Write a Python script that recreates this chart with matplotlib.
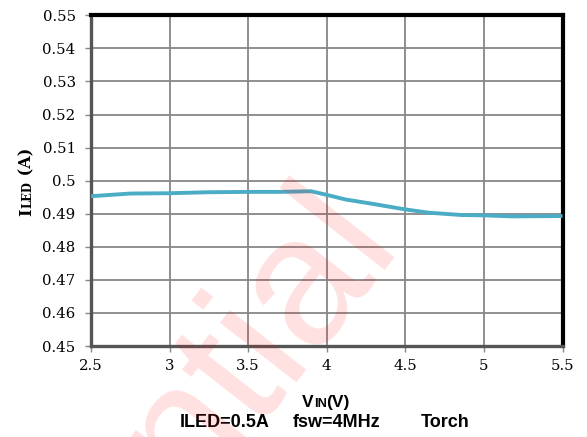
import matplotlib
matplotlib.use("Agg")
import matplotlib.pyplot as plt
import numpy as np

# Data
vin = [2.5, 2.75, 3.0, 3.25, 3.5, 3.7, 3.9, 4.0, 4.12, 4.29, 4.5, 4.65, 4.86, 5.0, 5.18, 5.5]
iled = [0.4953, 0.4961, 0.4962, 0.4965, 0.4966, 0.4966, 0.4968, 0.4957, 0.4943, 0.4930,
        0.4913, 0.4903, 0.4896, 0.4895, 0.4892, 0.4893]
xticks = [2.5, 3, 3.5, 4, 4.5, 5, 5.5]
xticklabels = ["2.5", "3", "3.5", "4", "4.5", "5", "5.5"]
yticks = [0.45, 0.46, 0.47, 0.48, 0.49, 0.50, 0.51, 0.52, 0.53, 0.54, 0.55]
yticklabels = ["0.45", "0.46", "0.47", "0.48", "0.49", "0.5", "0.51", "0.52", "0.53", "0.54", "0.55"]

W, H = 587, 437
fig = plt.figure(figsize=(W / 100, H / 100), dpi=100)
ax = fig.add_axes([91 / W, (H - 346) / H, (562.5 - 91) / W, (346 - 15.3) / H])

ax.plot(vin, iled, color="#4BACC6", lw=2.8, solid_capstyle="butt", solid_joinstyle="round", zorder=3)
ax.set_xlim(2.5, 5.5)
ax.set_ylim(0.45, 0.55)
ax.set_xticks(xticks)
ax.set_xticklabels(xticklabels)
ax.set_yticks(yticks)
ax.set_yticklabels(yticklabels)
ax.grid(True, color="#878787", lw=1.3, zorder=1)
ax.set_axisbelow(True)

for side in ["top", "right"]:
    ax.spines[side].set_color("black")
    ax.spines[side].set_linewidth(3.0)
for side in ["left", "bottom"]:
    ax.spines[side].set_color("#555555")
    ax.spines[side].set_linewidth(2.4)

ax.tick_params(axis="both", direction="out", length=4, width=1.0, color="#878787",
               labelsize=10.7, labelcolor="black")
ax.tick_params(axis="y", pad=7)
ax.tick_params(axis="x", pad=5)
for lab in ax.get_xticklabels() + ax.get_yticklabels():
    lab.set_family("DejaVu Serif")

renderer = fig.canvas.get_renderer()
def place_rot(parts, x, y_center):
    objs = []
    for txt, size, kw in parts:
        t = fig.text(x / W, 0, txt, fontsize=size, rotation=90, rotation_mode="anchor",
                     ha="left", va="baseline", **kw)
        objs.append(t)
    lens = [o.get_window_extent(renderer).height for o in objs]
    total = sum(lens)
    y = (H - y_center) - total / 2
    for o, L in zip(objs, lens):
        o.set_position((x / W, y / H))
        y += L
    return objs

place_rot([("I", 11.5, dict(family="DejaVu Serif", weight="bold")),
           ("LED", 8.3, dict(family="DejaVu Serif", weight="bold")),
           (" (A)", 11.5, dict(family="DejaVu Serif", weight="bold"))], 31, 182)

def place_h(parts, x_center, y_base):
    objs = []
    for txt, size, kw in parts:
        t = fig.text(0, (H - y_base) / H, txt, fontsize=size, ha="left", va="baseline", **kw)
        objs.append(t)
    lens = [o.get_window_extent(renderer).width for o in objs]
    total = sum(lens)
    x = x_center - total / 2
    for o, L in zip(objs, lens):
        o.set_position((x / W, (H - y_base) / H))
        x += L
    return objs

sans = dict(family="Liberation Sans", weight="bold")
place_h([("V", 12.5, sans), ("IN", 9.3, sans), ("(V)", 12.5, sans)], 326, 407)
fig.text(225 / W, (H - 427) / H, "ILED=0.5A", fontsize=13, ha="center", va="baseline", **sans)
fig.text(337 / W, (H - 427) / H, "fsw=4MHz", fontsize=13, ha="center", va="baseline", **sans)
fig.text(445 / W, (H - 427) / H, "Torch", fontsize=13, ha="center", va="baseline", **sans)

# Watermark
fig.text(191 / W, (H - 502) / H, "ntial", fontsize=132, rotation=52, rotation_mode="anchor",
         ha="left", va="baseline", color="#FF0000", alpha=0.12, family="Liberation Sans",
         zorder=10)

fig.savefig("out.png", dpi=100)
